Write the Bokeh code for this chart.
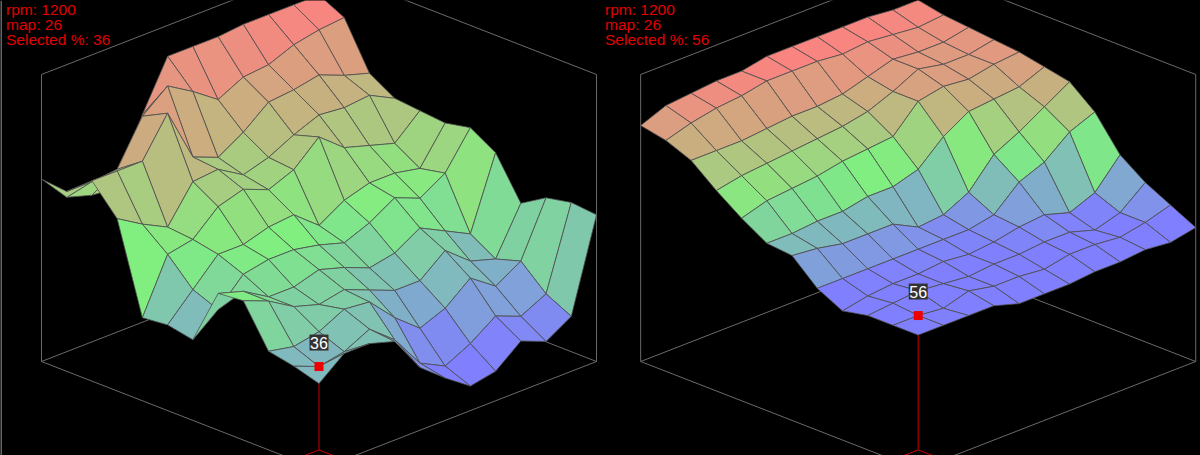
from bokeh.plotting import figure
from bokeh.embed import file_html
from bokeh.resources import INLINE
from bokeh.core.properties import value
from bokeh.models import GlobalInlineStyleSheet

RPM = 1200
MAP = 26
left_selected = 36
right_selected = 56

# table values: rows = map index (front to back), columns = rpm index
left_values = [
[37,45,45,42,28,20,13,15,23,19,25,61],
[40,36,38,43,35,22,17,22,29,25,30,62],
[42,40,42,47,46,36,28,32,40,33,39,60],
[58,54,48,45,47,43,39,39,47,39,36,54],
[57,54,48,48,51,48,44,46,52,47,42,70],
[35,43,53,55,55,53,50,54,60,56,62,76],
[37,47,57,57,60,61,53,59,62,62,60,74],
[36,57,59,68,71,67,71,80,72,69,66,75],
[71,65,60,74,75,69,72,77,81,80,81,76],
[82,82,82,97,76,72,78,86,87,89,85,82],
[74,74,75,92,100,94,87,92,93,97,99,100],
[75,64,61,60,85,104,104,104,105,105,105,105]]
right_values = [
[56,56,56,56,53,53,53,54,54,55,54,56],
[56,56,55,58,56,56,55,57,57,56,58,61],
[56,57,58,57,56,57,57,58,58,55,58,66],
[54,56,57,57,58,57,58,60,61,58,62,73],
[59,59,59,59,59,59,59,61,70,74,82,86],
[68,67,65,65,65,60,61,66,77,82,88,94],
[69,69,70,70,72,72,75,84,90,91,92,96],
[75,78,79,80,82,83,84,94,96,95,97,98],
[82,84,85,86,87,88,90,94,99,97,97,99],
[90,90,90,91,92,92,93,96,99,98,98,100],
[94,97,99,100,102,102,102,101,102,101,100,101],
[96,100,101,102,102,104,104,104,104,104,103,103]]

def lerp(a,b,t): return a+(b-a)*t
def col(t):
    B=(128,128,255);G=(128,240,128);Rd=(255,128,128)
    if t<.48:
        a,b,u=B,G,max(0,(t-.087)/.393)
    else:
        a,b,u=G,Rd,(t-.48)/.52
    return "#%02x%02x%02x"%tuple(int(lerp(a[n],b[n],u)) for n in range(3))

p=figure(width=1200,height=455,x_range=(0,1200),y_range=(455,0),output_backend="svg",toolbar_location=None,
         background_fill_color="black",border_fill_color="black",outline_line_color=None,min_border=0)
p.axis.visible=False;p.grid.visible=False
p.stylesheets=[GlobalInlineStyleSheet(css="html,body{margin:0;padding:0;background:#000;overflow:hidden}")]
p.line([0.5,0.5],[0,455],line_color="#c8c8c8",line_width=1)

def chart(Z,cx,txt_x,sel):
    sx=25.23; sy=9.78; base=469.0
    k=2.55; z0=3.3
    fx=lambda i,j: cx+sx*(i-j)
    fy=lambda i,j,z: base-sy*(i+j)-(z-z0)*k
    top=361-287
    for xa,ya,xb,yb in [(cx-11*sx,top,cx-11*sx,361),(cx+11*sx,top,cx+11*sx,361),
        (cx-11*sx,361,cx,base),(cx+11*sx,361,cx,base),(cx-11*sx,361,cx,361-108),(cx+11*sx,361,cx,361-108),
        (cx-11*sx,top,cx,top-108),(cx+11*sx,top,cx,top-108)]:
        p.line([xa,xb],[ya,yb],line_color="#6a6a6a",line_width=1)
    p.line([fx(0,1),fx(1,1),fx(1,0)],[fy(0,1,z0),fy(1,1,z0),fy(1,0,z0)],line_color="#cc0000",line_width=1)
    p.line([fx(1,1),fx(1,1)],[fy(1,1,z0),fy(1,1,Z[1][1])],line_color="#cc0000",line_width=1)
    zz=[v for r in Z for v in r]; mn,mx=min(zz),max(zz)
    xs=[];ys=[];fc=[]
    order=sorted([(i,j) for i in range(11) for j in range(11)],key=lambda a:-(a[0]+a[1]))
    for i,j in order:
        cs=[(i,j),(i+1,j),(i+1,j+1),(i,j+1)]
        xs.append([fx(a,b) for a,b in cs]);ys.append([fy(a,b,Z[b][a]) for a,b in cs])
        fc.append(col((sum(Z[b][a] for a,b in cs)/4-mn)/(mx-mn)))
    p.patches(xs,ys,fill_color=fc,line_color="#505050",line_alpha=.8,line_width=1)
    mxx=fx(1,1);myy=fy(1,1,Z[1][1])
    p.scatter([mxx],[myy],marker="square",size=9,fill_color="#ee0000",line_color=None)
    p.rect([mxx],[myy-24],width=19,height=16,fill_color="#333333",line_color=None)
    p.text([mxx],[myy-24],text=[str(sel)],text_color="white",text_align="center",text_baseline="middle",
           text_font_size="16px",text_font=value("Liberation Sans"))
    for n,t in enumerate(["rpm: %d"%RPM,"map: %d"%MAP,"Selected %%: %d"%sel]):
        p.text([txt_x],[9+15*n],text=[t],text_color="#e00000",text_align="left",text_baseline="middle",
               text_font_size="15.5px",text_font=value("Liberation Sans"))

chart(left_values,318.5,5.5,left_selected)
chart(right_values,917.7,604.5,right_selected)
open("out.html","w").write(file_html(p,INLINE))
